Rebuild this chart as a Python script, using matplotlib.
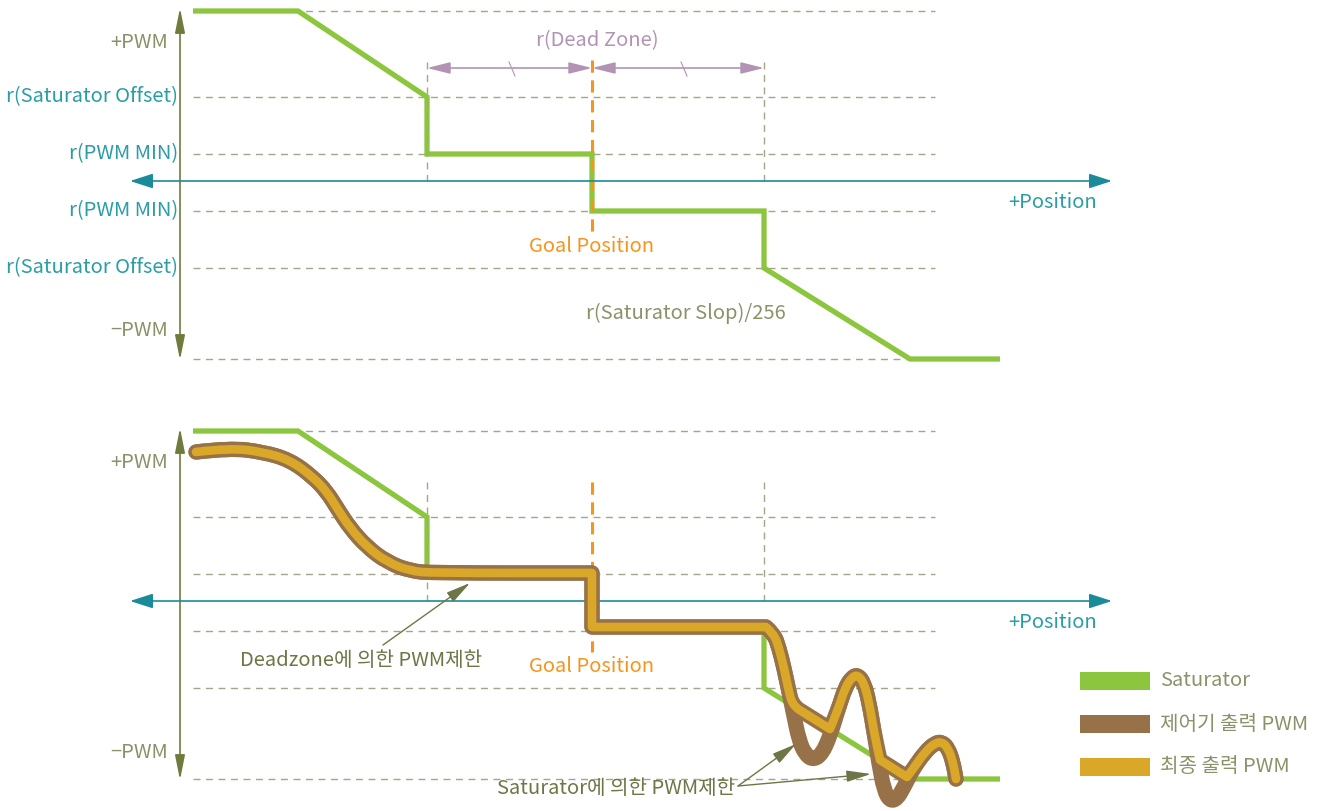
import matplotlib

matplotlib.use("Agg")

import matplotlib.pyplot as plt
import numpy as np
from matplotlib.patches import PathPatch, Rectangle
from matplotlib.path import Path

plt.rcParams["font.family"] = ["Noto Sans CJK KR", "DejaVu Sans"]

W, H = 1341, 811
PANEL_SHIFT = [0, 420]          # the lower panel repeats the upper one 420 px lower
FS = 14.5

COLORS = {
    "green": "#8CC63F",
    "brown": "#977248",
    "gold": "#D9A829",
    "teal": "#1A8C99",
    "teal_text": "#2A9DA5",
    "olive": "#6E7B3C",
    "olive_text": "#8C916A",
    "note": "#6E7547",
    "grid": "#A5A58B",
    "orange": "#F7941D",
    "mauve": "#B393B3",
}

# reference rows (pixel y of the upper panel)
ZERO_Y = 181
AXIS_X = 180
LEVEL_Y = [11, 97, 154, 211, 268, 359]
GRID_X = [193, 935]

# dead zone edges and goal position (pixel x)
DEAD_LEFT, GOAL_X, DEAD_RIGHT = 427, 592, 764

# left-hand labels
TOP_LABELS = ["+PWM", "r(Saturator Offset)", "r(PWM MIN)", "r(PWM MIN)", "r(Saturator Offset)", "\u2212PWM"]
TOP_LABEL_Y = [42, 97, 154, 211, 268, 331]
TOP_LABEL_KIND = ["pwm", "r", "r", "r", "r", "pwm"]
BOTTOM_LABELS = ["+PWM", "\u2212PWM"]
BOTTOM_LABEL_Y = [462, 752]

# saturator curve (upper panel coordinates)
SAT_X = [193, 298, 427, 427, 592, 592, 764, 764, 910, 1000]
SAT_Y = [11, 11, 97, 154, 154, 211, 211, 268, 359, 359]

# controller output (lower panel, pixel coords)
CTRL_X = [196, 230, 263, 290, 313, 327, 337, 350, 367, 387, 410, 433, 592, 592, 766,
          774, 779, 784, 789, 794, 799, 805, 813, 822, 830, 838, 845, 852, 858, 864,
          869, 874, 879, 884, 890, 897, 904, 913, 925, 935, 942, 948, 953, 956]
CTRL_Y = [452, 448, 452, 460, 477, 492, 508, 528, 547, 562, 571, 573, 573, 627, 627,
          634, 648, 668, 692, 716, 740, 754, 760, 754, 736, 710, 688, 677, 675, 683,
          702, 732, 764, 790, 801, 799, 787, 769, 752, 743, 742, 748, 762, 779]
CTRL_CORNERS = [12, 13, 14]

# final output PWM = controller output limited by the saturator
FINAL_X = [196, 230, 263, 290, 313, 327, 337, 350, 367, 387, 410, 433, 592, 592, 766,
           774, 779, 784, 789, 792, 798, 830, 838, 845, 852, 858, 864, 869, 874, 880,
           907, 913, 925, 935, 942, 948, 953, 956]
FINAL_Y = [452, 448, 452, 460, 477, 492, 508, 528, 547, 562, 571, 573, 573, 627, 627,
           634, 648, 668, 692, 703, 709, 729, 710, 688, 677, 675, 683, 702, 732, 760,
           777, 769, 752, 743, 742, 748, 762, 779]
FINAL_CORNERS = [12, 13, 14, 20, 21, 29, 30]

LEGEND_LABELS = ["Saturator", "제어기 출력 PWM", "최종 출력 PWM"]
LEGEND_COLORS = [COLORS["green"], COLORS["brown"], COLORS["gold"]]
LEGEND_Y = [681, 724, 767]


def arrow(ax, x0, y0, x1, y1, color, lw, style, hl, hw, z=5):
    ax.annotate(
        "",
        xy=(x1, y1),
        xytext=(x0, y0),
        arrowprops=dict(
            arrowstyle=f"{style},head_length={hl},head_width={hw}",
            color=color,
            lw=lw,
            shrinkA=0,
            shrinkB=0,
        ),
        zorder=z,
    )


def dashed(ax, xs, ys, color, lw, dashes, z):
    ax.plot(xs, ys, color=color, lw=lw, dashes=dashes, zorder=z, solid_capstyle="butt")


def smooth_path(xs, ys, corners):
    # quadratic pieces through the read points, hard corners where asked
    pts = np.column_stack([xs, ys]).astype(float)
    verts = [pts[0]]
    codes = [Path.MOVETO]
    for i in range(1, len(pts) - 1):
        if i in corners:
            verts.append(pts[i])
            codes.append(Path.LINETO)
        else:
            verts += [pts[i], (pts[i] + pts[i + 1]) / 2]
            codes += [Path.CURVE3, Path.CURVE3]
    verts.append(pts[-1])
    codes.append(Path.LINETO)
    return Path(verts, codes)


def stroke(ax, path, color, lw, z):
    ax.add_patch(PathPatch(path, facecolor="none", edgecolor=color, lw=lw,
                           capstyle="round", joinstyle="round", zorder=z))


def draw_frame(ax, shift):
    for y in LEVEL_Y:
        dashed(ax, GRID_X, [y + shift, y + shift], COLORS["grid"], 1.0, (5, 4), 1)
    for x in (DEAD_LEFT, DEAD_RIGHT):
        top = 62 if shift == 0 else 482
        dashed(ax, [x, x], [top, ZERO_Y + shift], COLORS["grid"], 1.0, (5, 4), 3)
    top = 60 if shift == 0 else 482
    dashed(ax, [GOAL_X, GOAL_X], [top, 232 + shift], COLORS["orange"], 2.2, (4, 2.5), 3)
    ax.text(GOAL_X, 246 + shift, "Goal Position", color=COLORS["orange"], fontsize=FS,
            ha="center", va="center", zorder=6)

    arrow(ax, AXIS_X, 360 + shift, AXIS_X, 8 + shift, COLORS["olive"], 1.2, "<|-|>", 1.5, 0.3)
    arrow(ax, 130, ZERO_Y + shift, 1112, ZERO_Y + shift, COLORS["teal"], 1.2, "<|-|>", 1.4, 0.45)
    ax.text(1053, 203 + shift, "+Position", color=COLORS["teal_text"], fontsize=FS,
            ha="center", va="center")

    ax.plot(SAT_X, np.asarray(SAT_Y) + shift, color=COLORS["green"], lw=3.8,
            solid_joinstyle="miter", solid_capstyle="butt", zorder=2)


def main() -> None:
    fig = plt.figure(figsize=(W / 100, H / 100), dpi=100)
    fig.patch.set_facecolor("white")
    ax = fig.add_axes([0, 0, 1, 1])
    ax.set_xlim(0, W)
    ax.set_ylim(H, 0)
    ax.axis("off")

    for shift in PANEL_SHIFT:
        draw_frame(ax, shift)

    for label, y, kind in zip(TOP_LABELS, TOP_LABEL_Y, TOP_LABEL_KIND):
        color = COLORS["olive_text"] if kind == "pwm" else COLORS["teal_text"]
        right = 168 if kind == "pwm" else 178
        ax.text(right, y, label, color=color, fontsize=FS, ha="right", va="center")
    for label, y in zip(BOTTOM_LABELS, BOTTOM_LABEL_Y):
        ax.text(168, y, label, color=COLORS["olive_text"], fontsize=FS, ha="right", va="center")

    # dead zone dimension arrows
    arrow(ax, DEAD_LEFT, 68, GOAL_X, 68, COLORS["mauve"], 1.2, "<|-|>", 1.4, 0.35)
    arrow(ax, GOAL_X, 68, DEAD_RIGHT, 68, COLORS["mauve"], 1.2, "<|-|>", 1.4, 0.35)
    ax.plot([509, 515], [62, 76], color=COLORS["mauve"], lw=0.8)
    ax.plot([681, 687], [62, 76], color=COLORS["mauve"], lw=0.8)
    ax.text(597, 41, "r(Dead Zone)", color=COLORS["mauve"], fontsize=FS, ha="center", va="center")
    ax.text(686, 313, "r(Saturator Slop)/256", color=COLORS["olive_text"], fontsize=FS,
            ha="center", va="center")

    # lower panel: controller output under, final output on top
    ctrl = smooth_path(CTRL_X, CTRL_Y, CTRL_CORNERS)
    final = smooth_path(FINAL_X, FINAL_Y, FINAL_CORNERS)
    stroke(ax, ctrl, COLORS["brown"], 11.0, 7)
    stroke(ax, final, COLORS["brown"], 11.0, 8)
    stroke(ax, final, COLORS["gold"], 6.2, 9)

    ax.text(361, 660, "Deadzone에 의한 PWM제한", color=COLORS["note"], fontsize=FS,
            ha="center", va="center")
    arrow(ax, 383, 645, 470, 583, COLORS["note"], 1.0, "-|>", 1.5, 0.35, z=10)
    ax.text(616, 788, "Saturator에 의한 PWM제한", color=COLORS["note"], fontsize=FS,
            ha="center", va="center", zorder=10)
    arrow(ax, 738, 786, 796, 744, COLORS["note"], 1.0, "-|>", 1.5, 0.35, z=10)
    arrow(ax, 738, 786, 871, 774, COLORS["note"], 1.0, "-|>", 1.5, 0.35, z=10)

    for label, color, y in zip(LEGEND_LABELS, LEGEND_COLORS, LEGEND_Y):
        ax.add_patch(Rectangle((1080, y - 9), 70, 18, facecolor=color, edgecolor="none"))
        ax.text(1160, y, label, color=COLORS["olive_text"], fontsize=FS, ha="left", va="center")

    fig.savefig("out.png", dpi=100, facecolor="white")
    plt.close(fig)


if __name__ == "__main__":
    main()
